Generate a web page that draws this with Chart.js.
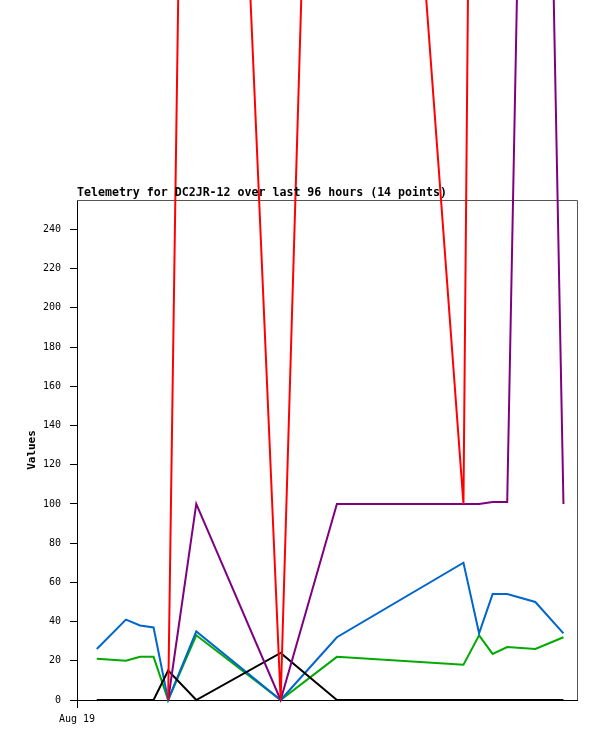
<!DOCTYPE html>
<html>
<head>
<meta charset="utf-8">
<title>Telemetry</title>
<script src="https://cdn.jsdelivr.net/npm/chart.js@4.4.1/dist/chart.umd.min.js"></script>
<style>
    html, body { margin: 0; padding: 0; background: #ffffff; }
    #chart { display: block; }
</style>
</head>
<body>
<canvas id="chart" width="597" height="741"></canvas>
<script>
// Telemetry for DC2JR-12

// hours since Aug 19 00:00
const times = [3.8, 9.4, 12.1, 14.7, 17.5, 22.9, 39.1, 49.9, 74.2, 77.2, 79.8, 82.6, 88.0, 93.4];

const redValues = [null, null, null, null, 0, 1000, 0, 975, 100, 1000, 1000, 1000, 1000, 1000];
const purpleValues = [null, null, null, null, 0, 100, 0, 100, 100, 100, 101, 101, 845, 100];
const blackValues = [0, 0, 0, 0, 15, 0, 24, 0, 0, 0, 0, 0, 0, 0];
const blueValues = [26, 41, 38, 37, 0, 35, 0, 32, 70, 34, 54, 54, 50, 34];
const greenValues = [21, 20, 22, 22, 0, 33, 0, 22, 18, 33, 23.5, 27, 26, 32];

const yTickValues = [0, 20, 40, 60, 80, 100, 120, 140, 160, 180, 200, 220, 240];
const xTickValues = [0];
const xTickLabels = ['Aug 19'];

const chartTitle = 'Telemetry for DC2JR-12 over last 96 hours (14 points)';

const MONO = '"DejaVu Sans Mono", "Liberation Mono", monospace';

// Utility: pair times with a series
function toPoints(values) {
    return values.map((v, i) => ({ x: times[i], y: v }));
}

function makeDataset(label, values, color) {
    return {
        label: label,
        data: toPoints(values),
        borderColor: color,
        backgroundColor: color,
        borderWidth: 2,
        pointRadius: 0,
        pointHoverRadius: 0,
        tension: 0,
        fill: false,
        spanGaps: false,
        clip: false
    };
}

// Grey top/right frame and the title just above the plot
const framePlugin = {
    id: 'frame',
    beforeDatasetsDraw(chart) {
        const { ctx, chartArea } = chart;
        ctx.save();
        ctx.strokeStyle = '#555555';
        ctx.lineWidth = 1;
        ctx.beginPath();
        ctx.moveTo(chartArea.left, chartArea.top + 0.5);
        ctx.lineTo(chartArea.right + 0.5, chartArea.top + 0.5);
        ctx.lineTo(chartArea.right + 0.5, chartArea.bottom);
        ctx.stroke();
        ctx.restore();
    },
    afterDraw(chart) {
        const { ctx, chartArea } = chart;
        ctx.save();
        ctx.fillStyle = '#000000';
        ctx.font = 'bold 11.6px ' + MONO;
        ctx.textAlign = 'left';
        ctx.textBaseline = 'alphabetic';
        ctx.fillText(chartTitle, chartArea.left, chartArea.top - 4);
        ctx.restore();
    }
};

const ctx = document.getElementById('chart');

new Chart(ctx, {
    type: 'line',
    data: {
        datasets: [
            makeDataset('red', redValues, '#ff0000'),
            makeDataset('purple', purpleValues, '#7f007f'),
            makeDataset('black', blackValues, '#000000'),
            makeDataset('blue', blueValues, '#0066cc'),
            makeDataset('green', greenValues, '#00aa00')
        ]
    },
    options: {
        responsive: false,
        animation: false,
        devicePixelRatio: 1,
        layout: {
            padding: { top: 200, right: 20, bottom: 0, left: 0 }
        },
        plugins: {
            legend: { display: false },
            tooltip: { enabled: false },
            title: { display: false }
        },
        scales: {
            x: {
                type: 'linear',
                min: 0,
                max: 96,
                afterFit: function (scale) {
                    scale.height = 41;
                },
                afterBuildTicks: function (scale) {
                    scale.ticks = xTickValues.map(v => ({ value: v }));
                },
                grid: {
                    drawOnChartArea: false,
                    drawTicks: true,
                    tickLength: 8,
                    color: '#000000'
                },
                border: { display: true, color: '#000000', width: 1 },
                ticks: {
                    color: '#000000',
                    padding: 5,
                    maxRotation: 0,
                    font: { family: MONO, size: 10 },
                    callback: function (value) {
                        const i = xTickValues.indexOf(value);
                        return i >= 0 ? xTickLabels[i] : '';
                    }
                }
            },
            y: {
                type: 'linear',
                min: 0,
                max: 255,
                afterFit: function (scale) {
                    scale.width = 77;
                },
                afterBuildTicks: function (scale) {
                    scale.ticks = yTickValues.map(v => ({ value: v }));
                },
                grid: {
                    drawOnChartArea: false,
                    drawTicks: true,
                    tickLength: 7,
                    color: '#000000'
                },
                border: { display: true, color: '#000000', width: 1 },
                ticks: {
                    color: '#000000',
                    padding: 9,
                    font: { family: MONO, size: 10 }
                },
                title: {
                    display: true,
                    text: 'Values',
                    color: '#000000',
                    padding: { top: 26, bottom: 0 },
                    font: { family: MONO, size: 11, weight: 'bold' }
                }
            }
        }
    },
    plugins: [framePlugin]
});
</script>
</body>
</html>
